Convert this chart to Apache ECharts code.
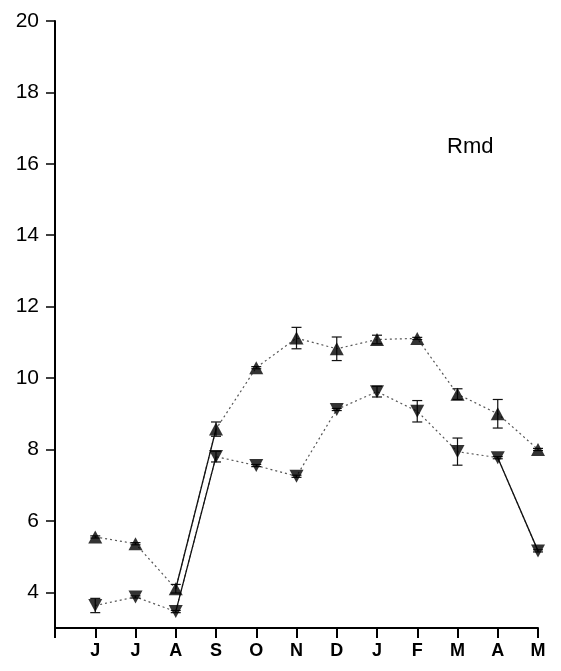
<!DOCTYPE html>
<html>
<head>
<meta charset="utf-8">
<script src="https://cdn.jsdelivr.net/npm/echarts@6/dist/echarts.min.js"></script>
<style>
html,body{margin:0;padding:0;background:#fff;}
#chart{width:561px;height:671px;}
</style>
</head>
<body>
<div id="chart"></div>
<script>
// Month letters (June..May)
const months = ['J','J','A','S','O','N','D','J','F','M','A','M'];
// Upper series (up triangles)
const upValues = [5.55, 5.36, 4.1, 8.57, 10.29, 11.12, 10.82, 11.08, 11.11, 9.55, 9.0, 8.0];
const upErrors = [0.03, 0.03, 0.12, 0.2, 0.03, 0.3, 0.33, 0.12, 0.03, 0.15, 0.4, 0.03];
// Lower series (down triangles)
const downValues = [3.63, 3.87, 3.46, 7.8, 7.55, 7.25, 9.12, 9.62, 9.07, 7.94, 7.77, 5.16];
const downErrors = [0.2, 0.03, 0.03, 0.15, 0.03, 0.03, 0.03, 0.15, 0.3, 0.38, 0.03, 0.03];
// Y tick labels
const yTicks = [4, 6, 8, 10, 12, 14, 16, 18, 20];
// Segments drawn solid (index pairs of months)
const solidUp = [[2, 3]];
const solidDown = [[2, 3], [10, 11]];
const label = 'Rmd';

const FONT = '"Liberation Sans", Arial, sans-serif';

function pts(vals) { return vals.map((v, i) => [i + 1, v]); }
function segData(vals, segs) {
  const out = [];
  segs.forEach((s, k) => {
    if (k > 0) out.push([null, null]);
    out.push([s[0] + 1, vals[s[0]]]);
    out.push([s[1] + 1, vals[s[1]]]);
  });
  return out;
}
function errData(vals, errs) { return vals.map((v, i) => [i + 1, v, errs[i]]); }

function errRender(params, api) {
  const x = api.value(0), y = api.value(1), e = api.value(2);
  const top = api.coord([x, y + e]);
  const bot = api.coord([x, y - e]);
  const cap = 5;
  const st = { stroke: '#111', lineWidth: 1.2 };
  return {
    type: 'group',
    children: [
      { type: 'line', shape: { x1: top[0], y1: top[1], x2: bot[0], y2: bot[1] }, style: st },
      { type: 'line', shape: { x1: top[0] - cap, y1: top[1], x2: top[0] + cap, y2: top[1] }, style: st },
      { type: 'line', shape: { x1: bot[0] - cap, y1: bot[1], x2: bot[0] + cap, y2: bot[1] }, style: st }
    ]
  };
}

const chart = echarts.init(document.getElementById('chart'), null, { renderer: 'canvas' });
chart.setOption({
  animation: false,
  backgroundColor: '#fff',
  grid: { left: 55, right: 23, top: 21, bottom: 43, containLabel: false },
  xAxis: {
    type: 'value', min: 0, max: 12, interval: 1,
    axisLine: { show: true, lineStyle: { color: '#000', width: 2 } },
    axisTick: { show: true, length: 10, lineStyle: { color: '#000', width: 2 } },
    axisLabel: {
      margin: 14, color: '#000', fontSize: 18, fontWeight: 'bold', fontFamily: FONT,
      formatter: v => (v >= 1 && v <= 12) ? months[v - 1] : ''
    },
    splitLine: { show: false }
  },
  yAxis: {
    type: 'value', min: 3, max: 20,
    axisLine: { show: true, lineStyle: { color: '#000', width: 2 } },
    axisTick: { show: true, length: 9, customValues: yTicks, lineStyle: { color: '#000', width: 1.5 } },
    axisLabel: { margin: 16, color: '#000', fontSize: 21, fontFamily: FONT, customValues: yTicks },
    splitLine: { show: false }
  },
  graphic: [{
    type: 'text', left: 447, top: 136,
    style: { text: label, fontSize: 22, fontFamily: FONT, fill: '#000' }
  }],
  series: [
    { type: 'line', data: pts(upValues), symbol: 'none', lineStyle: { color: '#555', width: 1.2, type: [2, 3] }, z: 2 },
    { type: 'line', data: pts(downValues), symbol: 'none', lineStyle: { color: '#555', width: 1.2, type: [2, 3] }, z: 2 },
    { type: 'line', data: segData(upValues, solidUp), symbol: 'none', connectNulls: false, lineStyle: { color: '#111', width: 1.3 }, z: 3 },
    { type: 'line', data: segData(downValues, solidDown), symbol: 'none', connectNulls: false, lineStyle: { color: '#111', width: 1.3 }, z: 3 },
    { type: 'custom', data: errData(upValues, upErrors), renderItem: errRender, z: 4 },
    { type: 'custom', data: errData(downValues, downErrors), renderItem: errRender, z: 4 },
    { type: 'scatter', data: pts(upValues), symbol: 'triangle', symbolSize: [14, 13], itemStyle: { color: '#000' }, z: 5 },
    { type: 'scatter', data: pts(downValues), symbol: 'triangle', symbolRotate: 180, symbolSize: [14, 13], itemStyle: { color: '#000' }, z: 5 }
  ]
});
</script>
</body>
</html>
